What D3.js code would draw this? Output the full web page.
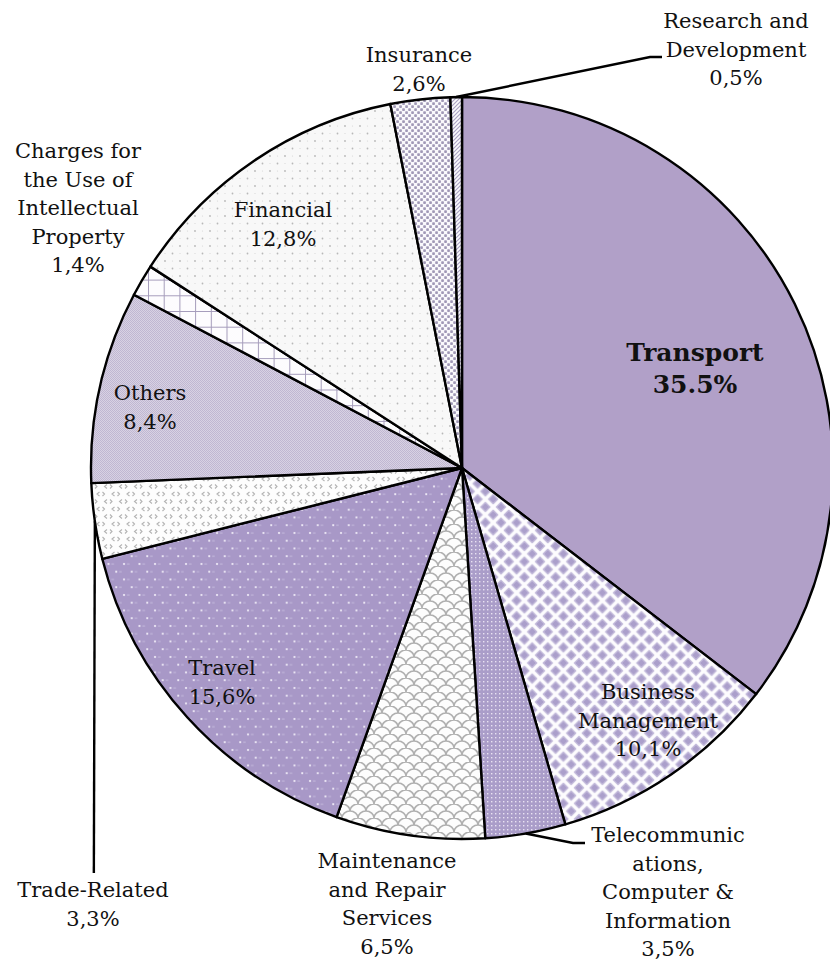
<!DOCTYPE html>
<html>
<head>
<meta charset="utf-8">
<script src="https://cdn.jsdelivr.net/npm/d3@7"></script>
<style>
body { margin: 0; background: #fff; }
text { font-family: "DejaVu Serif", serif; fill: #111; }
</style>
</head>
<body>
<script>
// slice data, clockwise from 12 o'clock
var categories = ["Transport", "Business Management", "Telecommunications, Computer & Information",
  "Maintenance and Repair Services", "Travel", "Trade-Related", "Others",
  "Charges for the Use of Intellectual Property", "Financial", "Insurance", "Research and Development"];
var shares = [35.5, 10.1, 3.5, 6.5, 15.6, 3.3, 8.4, 1.4, 12.8, 2.6, 0.5];
var shareLabels = ["35.5%", "10,1%", "3,5%", "6,5%", "15,6%", "3,3%", "8,4%", "1,4%", "12,8%", "2,6%", "0,5%"];
var nameLines = [["Transport"], ["Business", "Management"], ["Telecommunic", "ations,", "Computer &", "Information"],
  ["Maintenance", "and Repair", "Services"], ["Travel"], ["Trade-Related"], ["Others"],
  ["Charges for", "the Use of", "Intellectual", "Property"], ["Financial"], ["Insurance"], ["Research and", "Development"]];

var W = 830, H = 963;
var cx = 462, cy = 468, R = 371;

// label anchor (x, first baseline) and leader elbows
var labelAt = [[695, 361], [648, 699], [668, 842], [387, 868], [222, 675], [93, 897], [150, 400],
  [78, 158], [283, 217], [419, 62], [736, 28]];
var leaders = {2: [[573, 843], [585, 843]], 5: [[93, 873]], 10: [[650, 57], [662, 57]]};

var svg = d3.select("body").append("svg").attr("width", W).attr("height", H);
var defs = svg.append("defs");

function pat(id, w, h, bg) {
  var p = defs.append("pattern").attr("id", id).attr("patternUnits", "userSpaceOnUse")
    .attr("width", w).attr("height", h);
  p.append("rect").attr("width", w).attr("height", h).attr("fill", bg);
  return p;
}

// Business: separated diamonds
var p = pat("pBus", 15.6, 15.6, "#fdfcfe");
var dia = function(x, y, s) { return "M" + x + "," + (y - s) + "L" + (x + s) + "," + y + "L" + x + "," + (y + s) + "L" + (x - s) + "," + y + "Z"; };
p.append("path").attr("d", [dia(0, 0, 4.6), dia(15.6, 0, 4.6), dia(0, 15.6, 4.6), dia(15.6, 15.6, 4.6), dia(7.8, 7.8, 4.6)].join(" "))
  .attr("fill", "#ab9fcb").attr("stroke", "#c4bbdb").attr("stroke-width", 1.2).attr("stroke-linejoin", "round");
// Telecom: purple with fine white dots
p = pat("pTel", 4, 4, "#aa9dc9");
p.append("rect").attr("x", 1).attr("y", 1).attr("width", 1.4).attr("height", 1.4).attr("fill", "#e8e2f2");
// Maintenance: fish scales
p = pat("pMai", 16, 14, "#fdfdfd");
p.append("path").attr("d", "M0,7 A8,7 0 0 1 16,7 M-8,14 A8,7 0 0 1 8,14 M8,14 A8,7 0 0 1 24,14 M-8,0 A8,7 0 0 1 8,0 M8,0 A8,7 0 0 1 24,0")
  .attr("fill", "none").attr("stroke", "#b0b0b0").attr("stroke-width", 1.6);
// Travel: purple with white dots and dashes
p = pat("pTra", 15.5, 15.5, "#a898c7");
p.append("circle").attr("cx", 3).attr("cy", 3).attr("r", 1.1).attr("fill", "#f4f0fa");
p.append("circle").attr("cx", 10.75).attr("cy", 10.75).attr("r", 1.1).attr("fill", "#f4f0fa");
p.append("path").attr("d", "M6,3H8.5 M13.75,10.75H16.2 M-1.8,10.75H0.7").attr("stroke", "#c9bfe0").attr("stroke-width", 0.9);
// Trade: chevrons
p = pat("pTrd", 15, 15, "#fdfdfd");
p.append("path").attr("d", "M5,1.5L2.5,3.5L5,5.5 M8,1.5L10,3.5L8,5.5 M12.5,9L10,11L12.5,13 M15.5,9L17.5,11L15.5,13 M0.5,9L2.5,11L0.5,13")
  .attr("fill", "none").attr("stroke", "#b3b3b3").attr("stroke-width", 1.1);
// Others: fine checker
p = pat("pOth", 2, 2, "#d8d2e3");
p.append("rect").attr("width", 1).attr("height", 1).attr("fill", "#c0b7d2");
p.append("rect").attr("x", 1).attr("y", 1).attr("width", 1).attr("height", 1).attr("fill", "#c0b7d2");
// Charges: grid
p = pat("pCha", 15.7, 15.7, "#fdfcfe");
p.append("path").attr("d", "M0,0H15.7 M0,0V15.7").attr("stroke", "#a59cbb").attr("stroke-width", 2);
// Financial: sparse dots
p = pat("pFin", 15, 15, "#f8f8f8");
p.append("circle").attr("cx", 3).attr("cy", 3).attr("r", 0.9).attr("fill", "#b8b8b8");
p.append("circle").attr("cx", 10.5).attr("cy", 10.5).attr("r", 0.9).attr("fill", "#b8b8b8");
p.append("circle").attr("cx", 10.5).attr("cy", 3).attr("r", 0.6).attr("fill", "#d6d6d6");
p.append("circle").attr("cx", 3).attr("cy", 10.5).attr("r", 0.6).attr("fill", "#d6d6d6");
// Insurance: dense dots
p = pat("pIns", 6, 6, "#faf9fc");
p.append("rect").attr("x", 0.2).attr("y", 0.2).attr("width", 2.7).attr("height", 2.7).attr("rx", 0.7).attr("fill", "#a098b6");
p.append("rect").attr("x", 3.2).attr("y", 3.2).attr("width", 2.7).attr("height", 2.7).attr("rx", 0.7).attr("fill", "#a098b6");
// R&D: diagonal stripes
p = pat("pRD", 4, 4, "#fbfbfd");
p.append("path").attr("d", "M-1,1L1,-1 M0,4L4,0 M3,5L5,3").attr("stroke", "#aaa2c4").attr("stroke-width", 1.2);

var fills = ["#b1a0c8", "url(#pBus)", "url(#pTel)", "url(#pMai)", "url(#pTra)", "url(#pTrd)",
  "url(#pOth)", "url(#pCha)", "url(#pFin)", "url(#pIns)", "url(#pRD)"];

var pie = d3.pie().sort(null).value(function(d) { return d; });
var arcs = pie(shares);
var arc = d3.arc().innerRadius(0).outerRadius(R);

var g = svg.append("g").attr("transform", "translate(" + cx + "," + cy + ")");
g.selectAll("path.slice").data(arcs).enter().append("path")
  .attr("class", "slice")
  .attr("d", arc)
  .attr("fill", function(d, i) { return fills[i]; })
  .attr("stroke", "#000")
  .attr("stroke-width", 2.4)
  .attr("stroke-linejoin", "round");

// leader lines for the thin slices
Object.keys(leaders).forEach(function(k) {
  var a = arcs[k], mid = (a.startAngle + a.endAngle) / 2;
  var start = [cx + R * Math.sin(mid), cy - R * Math.cos(mid)];
  var pts = [start].concat(leaders[k]);
  if (+k === 5) pts[1] = [start[0] - 1, leaders[k][0][1]];
  svg.append("path")
    .attr("d", d3.line()(pts))
    .attr("fill", "none").attr("stroke", "#000").attr("stroke-width", 2.4);
});

// labels
arcs.forEach(function(a, i) {
  var lines = nameLines[i].concat([shareLabels[i]]);
  var t = svg.append("text")
    .attr("text-anchor", "middle")
    .attr("font-size", i === 0 ? 25 : 21)
    .attr("font-weight", i === 0 ? "bold" : "normal");
  lines.forEach(function(s, j) {
    t.append("tspan").attr("x", labelAt[i][0]).attr("y", labelAt[i][1] + j * (i === 0 ? 32 : 28.5)).text(s);
  });
});
</script>
</body>
</html>
